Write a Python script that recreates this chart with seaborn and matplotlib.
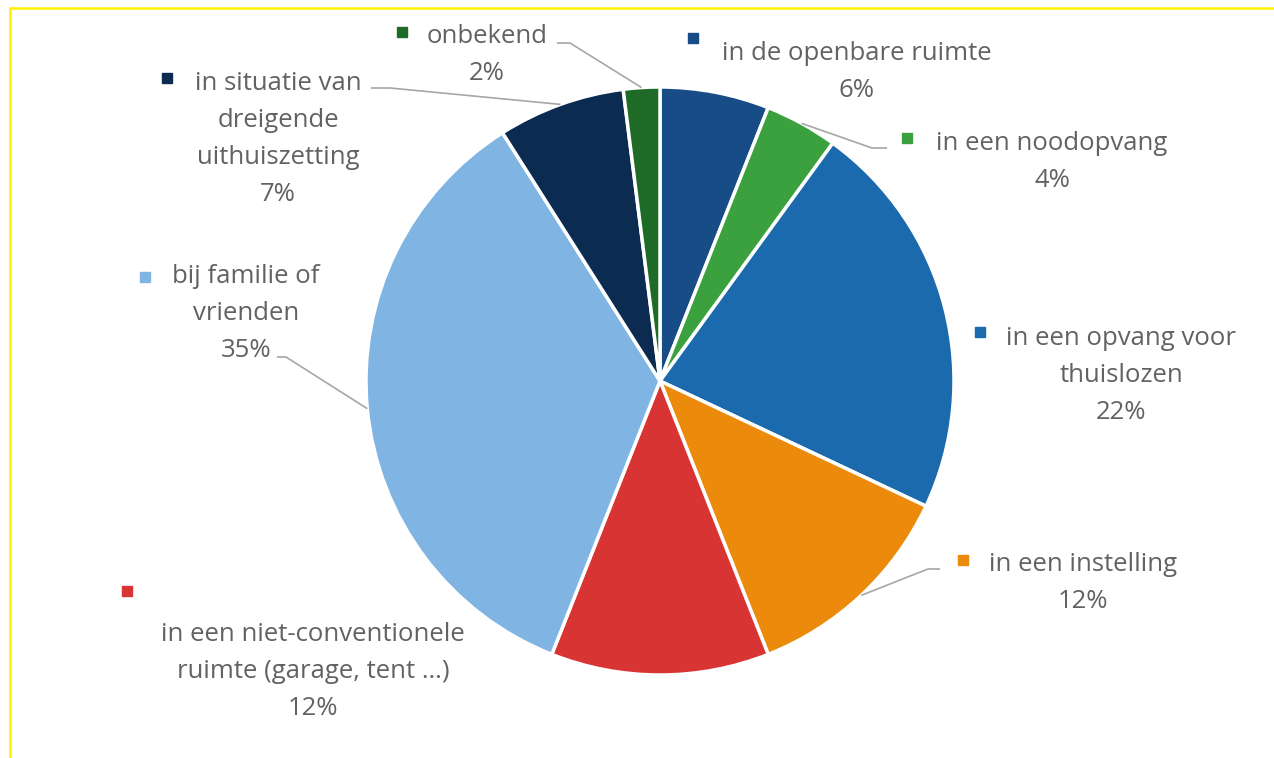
import numpy as np
import pandas as pd
import matplotlib
matplotlib.use("Agg")
import matplotlib.pyplot as plt
import seaborn as sns

# Where people stayed (share of respondents, %), clockwise from 12 o'clock
categories = [
    "in de openbare ruimte",
    "in een noodopvang",
    "in een opvang voor thuislozen",
    "in een instelling",
    "in een niet-conventionele ruimte (garage, tent …)",
    "bij familie of vrienden",
    "in situatie van dreigende uithuiszetting",
    "onbekend",
]
shares = [6, 4, 22, 12, 12, 35, 7, 2]
label_lines = [
    ["in de openbare ruimte"],
    ["in een noodopvang"],
    ["in een opvang voor", "thuislozen"],
    ["in een instelling"],
    ["in een niet-conventionele", "ruimte (garage, tent …)"],
    ["bij familie of", "vrienden"],
    ["in situatie van", "dreigende", "uithuiszetting"],
    ["onbekend"],
]
slice_colors = ["#184c87", "#3ba03e", "#1a6aad", "#ec8a0c",
                "#d93434", "#80b4e2", "#0b2c50", "#1e6a27"]

df = pd.DataFrame({"categorie": categories, "aandeel": shares})

# Label layout in pixel units: text centre x, first line centre y,
# key square position and optional leader-line start points.
label_layout = [
    dict(x=857, y=52, sq=(693, 38), lead=None),
    dict(x=1052, y=142, sq=(907, 138), lead=[(887, 148), (872, 148)]),
    dict(x=1121, y=337, sq=(980, 332), lead=None),
    dict(x=1083, y=563, sq=(963, 560), lead=[(940, 569), (928, 569)]),
    dict(x=313, y=633, sq=(127, 591), lead=None),
    dict(x=246, y=275, sq=(145, 277), lead=[(277, 357), (286, 357)]),
    dict(x=278, y=82, sq=(167, 78), lead=[(371, 88), (390, 88)]),
    dict(x=487, y=35, sq=(402, 32), lead=[(557, 43), (570, 43)]),
]

sns.set_theme(style="white")
plt.rcParams["font.family"] = ["Open Sans", "DejaVu Sans"]

W, H = 1274, 758
fig = plt.figure(figsize=(W / 100, H / 100), dpi=100, facecolor="white")

# Pie axes: square box centred on (cx, cy) px with radius r px
cx, cy, r = 660, 381, 294
pie_ax = fig.add_axes([(cx - r) / W, (H - cy - r) / H, 2 * r / W, 2 * r / H])
palette = sns.color_palette(slice_colors)
wedges, _ = pie_ax.pie(
    df["aandeel"], colors=palette, startangle=90, counterclock=False,
    radius=1.0, wedgeprops=dict(edgecolor="white", linewidth=2.5),
)
pie_ax.set_xlim(-1, 1)
pie_ax.set_ylim(-1, 1)
pie_ax.set_aspect("equal", adjustable="box")
pie_ax.axis("off")

# Overlay in pixel coordinates for labels, leader lines and frame
ov = fig.add_axes([0, 0, 1, 1], zorder=5)
ov.set_xlim(0, W)
ov.set_ylim(H, 0)
ov.axis("off")
ov.patch.set_alpha(0)

fig.canvas.draw()
to_px = pie_ax.transData + ov.transData.inverted()

text_color = "#626262"
line_gap = 37
fs = 18.5

for wedge, lines, share, color, lay in zip(wedges, label_lines, df["aandeel"],
                                            palette, label_layout):
    all_lines = lines + [f"{share}%"]
    for i, txt in enumerate(all_lines):
        ov.text(lay["x"], lay["y"] + i * line_gap + 8, txt, ha="center",
                va="baseline", fontsize=fs, color=text_color)
    ov.plot([lay["sq"][0]], [lay["sq"][1]], marker="s", markersize=7,
            color=color, linestyle="none")
    if lay["lead"] is not None:
        mid = np.deg2rad((wedge.theta1 + wedge.theta2) / 2)
        ex, ey = to_px.transform((np.cos(mid), np.sin(mid)))
        xs = [p[0] for p in lay["lead"]] + [ex]
        ys = [p[1] for p in lay["lead"]] + [ey]
        ov.plot(xs, ys, color="#a6a6a6", linewidth=1.2,
                solid_capstyle="butt")

# Yellow frame edges along the top and left
ov.plot([10, W], [8, 8], color="#fff200", linewidth=1.8)
ov.plot([10, 10], [8, H], color="#fff200", linewidth=1.8)

fig.savefig("out.png", dpi=100, facecolor="white")
